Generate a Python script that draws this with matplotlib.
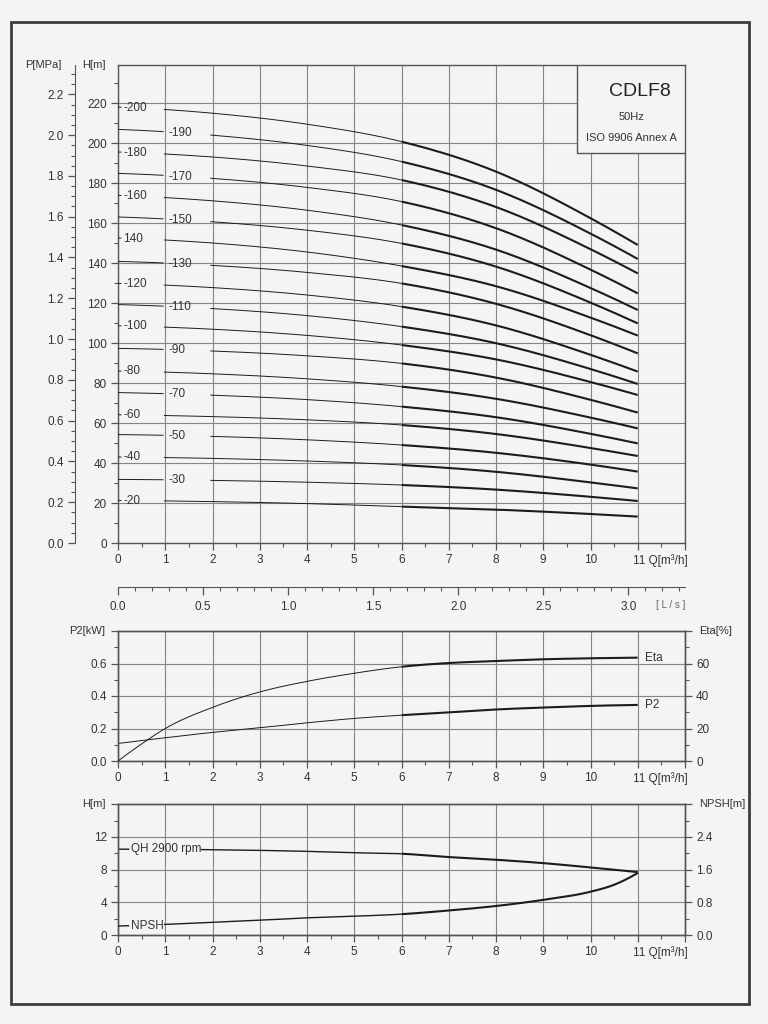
import numpy as np
import matplotlib
matplotlib.use("Agg")
import matplotlib.pyplot as plt
from matplotlib.patches import Rectangle
from matplotlib.ticker import MultipleLocator

plt.rcParams['font.family'] = ['Liberation Sans', 'DejaVu Sans']

# ---------------- data ----------------
Q_TOP = [0, 2, 4, 6, 8, 10, 11]
MODEL_LABELS = ["-200", "-190", "-180", "-170", "-160", "-150", "140", "-130",
                "-120", "-110", "-100", "-90", "-80", "-70", "-60", "-50",
                "-40", "-30", "-20"]
STAGES = [20, 19, 18, 17, 16, 15, 14, 13, 12, 11, 10, 9, 8, 7, 6, 5, 4, 3, 2]
H_TOP = [
    [218.0, 214.9, 209.4, 200.7, 185.7, 162.4, 149.0],
    [206.8, 203.9, 198.8, 190.7, 176.6, 154.7, 142.0],
    [195.5, 193.0, 188.5, 181.5, 168.0, 146.9, 134.8],
    [184.8, 182.3, 177.8, 170.7, 157.4, 136.7, 124.8],
    [173.8, 171.1, 166.4, 159.0, 146.7, 127.5, 116.5],
    [163.0, 160.6, 156.4, 149.8, 138.2, 120.2, 109.8],
    [152.5, 150.0, 145.5, 138.5, 128.4, 112.7, 103.7],
    [140.8, 138.8, 135.3, 129.8, 119.6, 103.9, 94.8],
    [129.8, 127.7, 124.0, 118.2, 108.8, 94.1, 85.7],
    [119.2, 117.2, 113.7, 108.2, 99.9, 87.0, 79.5],
    [108.6, 106.9, 103.8, 99.0, 91.8, 80.5, 74.0],
    [97.3, 96.0, 93.6, 89.8, 82.7, 71.6, 65.2],
    [86.0, 84.6, 82.1, 78.2, 72.1, 62.7, 57.3],
    [75.2, 73.9, 71.7, 68.2, 62.9, 54.6, 49.8],
    [64.1, 63.2, 61.6, 59.0, 54.5, 47.5, 43.5],
    [54.2, 53.3, 51.6, 49.0, 45.1, 39.2, 35.7],
    [43.0, 42.3, 41.0, 39.0, 35.6, 30.3, 27.3],
    [31.8, 31.3, 30.4, 29.0, 26.7, 23.1, 21.0],
    [21.3, 20.7, 19.7, 18.2, 16.7, 14.5, 13.2],
]

Q_MID = [0, 1, 2, 3, 4, 5, 6, 7, 8, 9, 10, 11]
P2_KW = [0.108, 0.143, 0.176, 0.204, 0.235, 0.262, 0.282, 0.299, 0.317, 0.329, 0.339, 0.345]
Q_ETA = [0, 0.5, 1, 2, 3, 4, 5, 6, 7, 8, 9, 10, 11]
ETA_PCT = [0, 10.5, 20, 33, 42.5, 49, 54, 58, 60.3, 61.5, 62.6, 63.2, 63.6]

Q_QH = [0, 1, 2, 3, 4, 5, 6, 7, 8, 9, 10, 11]
H_QH = [10.5, 10.5, 10.44, 10.36, 10.24, 10.07, 9.95, 9.54, 9.21, 8.8, 8.27, 7.7]
Q_NPSH = [0, 1, 2, 3, 4, 5, 6, 7, 8, 9, 10, 10.5, 11]
NPSH_M = [0.22, 0.26, 0.31, 0.36, 0.42, 0.46, 0.51, 0.60, 0.71, 0.86, 1.06, 1.23, 1.52]

X_TICKS = list(range(13))
H_TICKS = list(range(0, 221, 20))
P_TICKS = [0.0, 0.2, 0.4, 0.6, 0.8, 1.0, 1.2, 1.4, 1.6, 1.8, 2.0, 2.2]
LS_TICKS = [0.0, 0.5, 1.0, 1.5, 2.0, 2.5, 3.0]

# ---------------- style ----------------
BG = '#f4f4f4'
INK = '#1c1c1c'
TXT = '#333333'
GRID = '#858585'
SPINE = '#555555'
FS = 8.5
THIN, THICK = 0.7, 1.5


def hermite(x, y, num=1200):
    x = np.asarray(x, float)
    y = np.asarray(y, float)
    dx = np.diff(x)
    d = np.diff(y) / dx
    m = np.empty_like(y)
    m[1:-1] = (d[:-1] * dx[1:] + d[1:] * dx[:-1]) / (dx[:-1] + dx[1:])
    m[0] = 2 * d[0] - m[1]
    m[-1] = 2 * d[-1] - m[-2]
    xs = np.linspace(x[0], x[-1], num)
    idx = np.clip(np.searchsorted(x, xs, side='right') - 1, 0, len(x) - 2)
    h = x[idx + 1] - x[idx]
    t = (xs - x[idx]) / h
    h00 = 2 * t**3 - 3 * t**2 + 1
    h10 = t**3 - 2 * t**2 + t
    h01 = -2 * t**3 + 3 * t**2
    h11 = t**3 - t**2
    ys = h00 * y[idx] + h10 * h * m[idx] + h01 * y[idx + 1] + h11 * h * m[idx + 1]
    return xs, ys


def draw_curve(ax, qp, vp, segs, thin=THIN, thick=THICK, split=6.0):
    xs, ys = hermite(qp, vp)
    for a, b in segs:
        for lo, hi, lw in [(a, min(b, split), thin), (max(a, split), b, thick)]:
            if hi > lo:
                msk = (xs >= lo - 1e-9) & (xs <= hi + 1e-9)
                ax.plot(xs[msk], ys[msk], color=INK, lw=lw, solid_capstyle='butt', zorder=3)
    return xs, ys


def fx(px):
    return px / 768.0


def fy(py):
    return 1.0 - py / 1024.0


def style_axes(ax):
    ax.set_facecolor(BG)
    for s in ax.spines.values():
        s.set_color(SPINE)
        s.set_linewidth(1.0)
    ax.tick_params(which='both', direction='out', colors=SPINE, labelcolor=TXT,
                   labelsize=FS)
    ax.tick_params(which='major', length=5, width=0.9, pad=3)
    ax.tick_params(which='minor', length=3, width=0.8)


def x_setup(ax):
    ax.set_xlim(0, 12)
    ax.set_xticks(X_TICKS)
    ax.set_xticklabels([str(i) for i in range(11)] + ['', ''])
    ax.xaxis.set_minor_locator(MultipleLocator(0.5))
    ax.annotate('11 Q[m³/h]', xy=(11, 0), xycoords=('data', 'axes fraction'),
                xytext=(-3.5, -8.2), textcoords='offset points', ha='left', va='top',
                fontsize=FS, color=TXT)
    ax.grid(True, which='major', color=GRID, lw=0.8, zorder=1)
    ax.set_axisbelow(True)


fig = plt.figure(figsize=(7.68, 10.24), dpi=100, facecolor=BG)
fig.patches.append(Rectangle((fx(11), fy(1004)), fx(749) - fx(11), fy(22) - fy(1004),
                             transform=fig.transFigure, fill=False,
                             edgecolor='#3c3c3c', lw=2.0, zorder=0))

W = fx(685) - fx(118)

# ---------------- top panel ----------------
ax1 = fig.add_axes([fx(118), fy(543), W, fy(65) - fy(543)])
style_axes(ax1)
ax1.set_ylim(0, 239)
ax1.set_yticks(H_TICKS)
ax1.set_yticklabels([str(v) for v in H_TICKS])
ax1.yaxis.set_minor_locator(MultipleLocator(10))
x_setup(ax1)
ax1.tick_params(axis='x', which='major', labelbottom=True)
ax1.xaxis.get_ticklabels()

for lab, n, hv in zip(MODEL_LABELS, STAGES, H_TOP):
    if n % 2 == 0:
        segs = [(0, 0.08), (0.97, 11)]
        tx = 0.11
    else:
        segs = [(0, 0.97), (1.95, 11)]
        tx = 1.07
    xs, ys = draw_curve(ax1, Q_TOP, hv, segs)
    ty = np.interp(tx + 0.35, xs, ys)
    ax1.text(tx, ty, lab, ha='left', va='center', fontsize=FS, color=TXT, zorder=4)

box = Rectangle((9.71, 195), 12 - 9.71, 239 - 195, facecolor=BG, edgecolor=SPINE,
                lw=1.0, zorder=5)
ax1.add_patch(box)
ax1.text(11.04, 225.7, 'CDLF8', ha='center', va='center', fontsize=14, color='#222222', zorder=6)
ax1.text(10.87, 212.8, '50Hz', ha='center', va='center', fontsize=8, color=TXT, zorder=6)
ax1.text(10.87, 202.7, 'ISO 9906 Annex A', ha='center', va='center', fontsize=8, color=TXT, zorder=6)

axp = ax1.twinx()
axp.set_ylim(0, 239 / 101.97)
for k in ['right', 'top', 'bottom']:
    axp.spines[k].set_visible(False)
axp.spines['left'].set_visible(True)
axp.spines['left'].set_position(('outward', 43 * 0.72))
axp.spines['left'].set_color(SPINE)
axp.yaxis.set_ticks_position('left')
axp.yaxis.set_label_position('left')
axp.set_yticks(P_TICKS)
axp.set_yticklabels(['%.1f' % v for v in P_TICKS])
axp.yaxis.set_minor_locator(MultipleLocator(0.05))
axp.tick_params(which='both', direction='out', colors=SPINE, labelcolor=TXT, labelsize=FS)
axp.tick_params(which='major', length=5, width=0.9, pad=3)
axp.tick_params(which='minor', length=3, width=0.8)

fig.text(fx(43), fy(65), 'P[MPa]', ha='center', va='center', fontsize=8, color=TXT)
fig.text(fx(94), fy(65), 'H[m]', ha='center', va='center', fontsize=8, color=TXT)

# ---------------- L/s axis ----------------
axl = fig.add_axes([fx(118), fy(587), W, 0.0005])
axl.set_facecolor('none')
axl.patch.set_visible(False)
for k in ['left', 'right', 'top']:
    axl.spines[k].set_visible(False)
axl.spines['bottom'].set_color(SPINE)
axl.set_xlim(0, 12 / 3.6)
axl.set_yticks([])
axl.set_xticks(LS_TICKS)
axl.set_xticklabels(['%.1f' % v for v in LS_TICKS])
axl.xaxis.set_minor_locator(MultipleLocator(0.1))
axl.tick_params(which='both', direction='out', colors=SPINE, labelcolor=TXT, labelsize=FS)
axl.tick_params(which='major', length=6, width=0.9, pad=4)
axl.tick_params(which='minor', length=3, width=0.8)
fig.text(fx(671), fy(605), '[ L / s ]', ha='center', va='center', fontsize=7, color='#666666')

# ---------------- middle panel ----------------
ax2 = fig.add_axes([fx(118), fy(761), W, fy(631) - fy(761)])
style_axes(ax2)
ax2.set_ylim(0, 0.8)
ax2.set_yticks([0, 0.2, 0.4, 0.6, 0.8])
ax2.set_yticklabels(['0.0', '0.2', '0.4', '0.6', ''])
ax2.yaxis.set_minor_locator(MultipleLocator(0.1))
x_setup(ax2)
ax2r = ax2.twinx()
ax2r.set_ylim(0, 80)
ax2r.set_yticks([0, 20, 40, 60, 80])
ax2r.set_yticklabels(['0', '20', '40', '60', ''])
ax2r.yaxis.set_minor_locator(MultipleLocator(10))
style_axes(ax2r)
ax2r.patch.set_visible(False)

draw_curve(ax2, Q_MID, P2_KW, [(0, 11)])
draw_curve(ax2r, Q_ETA, ETA_PCT, [(0, 11)])
ax2.text(11.15, P2_KW[-1], 'P2', ha='left', va='center', fontsize=FS, color=TXT)
ax2r.text(11.15, ETA_PCT[-1], 'Eta', ha='left', va='center', fontsize=FS, color=TXT)
fig.text(fx(87), fy(631), 'P2[kW]', ha='center', va='center', fontsize=8, color=TXT)
fig.text(fx(716), fy(631), 'Eta[%]', ha='center', va='center', fontsize=8, color=TXT)

# ---------------- bottom panel ----------------
ax3 = fig.add_axes([fx(118), fy(935), W, fy(804.3) - fy(935)])
style_axes(ax3)
ax3.set_ylim(0, 16)
ax3.set_yticks([0, 4, 8, 12, 16])
ax3.set_yticklabels(['0', '4', '8', '12', ''])
ax3.yaxis.set_minor_locator(MultipleLocator(2))
x_setup(ax3)
ax3r = ax3.twinx()
ax3r.set_ylim(0, 3.2)
ax3r.set_yticks([0, 0.8, 1.6, 2.4, 3.2])
ax3r.set_yticklabels(['0.0', '0.8', '1.6', '2.4', ''])
ax3r.yaxis.set_minor_locator(MultipleLocator(0.4))
style_axes(ax3r)
ax3r.patch.set_visible(False)

draw_curve(ax3, Q_QH, H_QH, [(0, 0.24), (1.75, 11)], thin=1.0, thick=1.5)
draw_curve(ax3r, Q_NPSH, NPSH_M, [(0, 0.24), (0.97, 11)], thin=1.0, thick=1.5)
ax3.text(0.27, H_QH[0], 'QH 2900 rpm', ha='left', va='center', fontsize=FS, color=TXT)
ax3r.text(0.27, NPSH_M[0], 'NPSH', ha='left', va='center', fontsize=FS, color=TXT)
fig.text(fx(94), fy(804), 'H[m]', ha='center', va='center', fontsize=8, color=TXT)
fig.text(fx(722), fy(804), 'NPSH[m]', ha='center', va='center', fontsize=8, color=TXT)

fig.savefig('out.png', dpi=100, facecolor=BG)
